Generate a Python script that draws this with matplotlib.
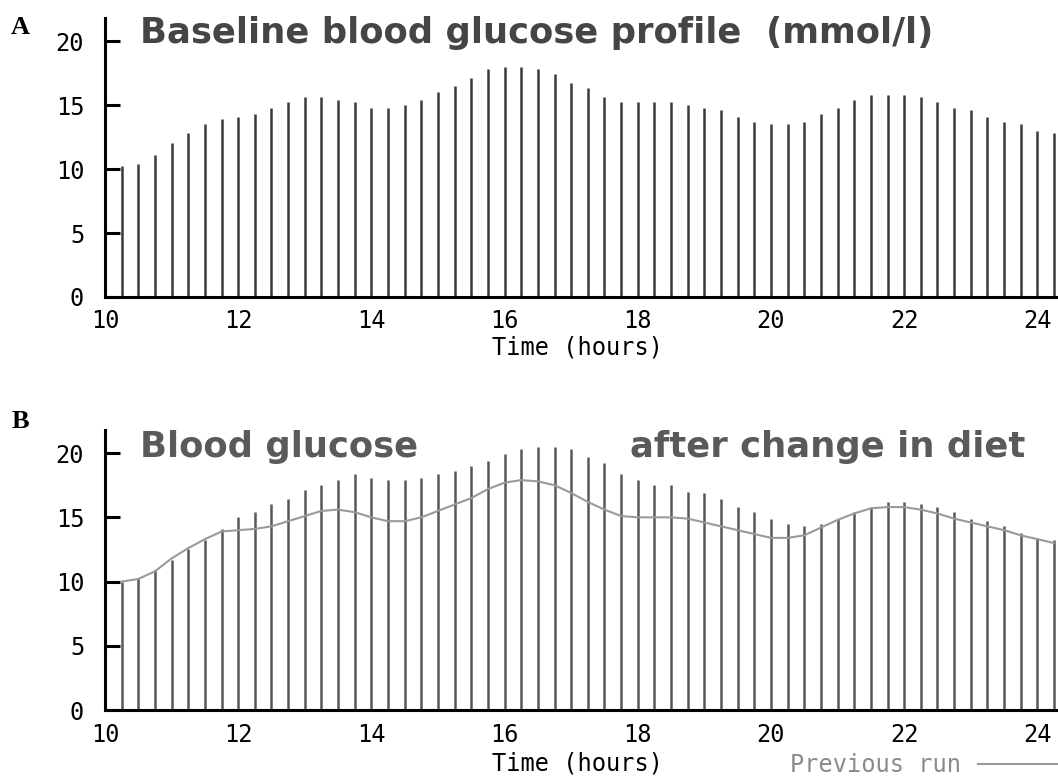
import matplotlib
matplotlib.use("Agg")
from matplotlib import pyplot as plt
import numpy as np

# sample times (hours), one bar every 15 minutes
times = np.arange(10.25, 24.26, 0.25)

# panel A: baseline blood glucose (mmol/l)
baseline = [10.2, 10.4, 11.1, 12.0, 12.8, 13.5, 13.9, 14.1,
            14.3, 14.8, 15.2, 15.6, 15.6, 15.4, 15.2, 14.8,
            14.8, 15.0, 15.4, 16.0, 16.5, 17.1, 17.8, 18.0,
            18.0, 17.8, 17.4, 16.7, 16.3, 15.6, 15.2, 15.2,
            15.2, 15.2, 15.0, 14.8, 14.6, 14.1, 13.7, 13.5,
            13.5, 13.7, 14.3, 14.8, 15.4, 15.8, 15.8, 15.8,
            15.6, 15.2, 14.8, 14.6, 14.1, 13.7, 13.5, 13.0, 12.8]

# panel B: blood glucose after change in diet
after_diet = [10.0, 10.3, 10.9, 11.7, 12.5, 13.2, 14.1, 15.0,
              15.4, 16.0, 16.4, 17.1, 17.5, 17.9, 18.4, 18.1,
              17.9, 17.9, 18.1, 18.4, 18.6, 19.0, 19.4, 19.9,
              20.3, 20.5, 20.5, 20.3, 19.7, 19.2, 18.4, 17.9,
              17.5, 17.5, 17.0, 16.9, 16.4, 15.8, 15.4, 14.9,
              14.5, 14.3, 14.5, 14.9, 15.4, 15.8, 16.2, 16.2,
              16.0, 15.8, 15.4, 14.9, 14.7, 14.3, 13.8, 13.4, 13.2]

# previous run line drawn in panel B
previous_run = [10.0, 10.2, 10.8, 11.8, 12.6, 13.3, 13.9, 14.0,
                14.1, 14.3, 14.7, 15.1, 15.5, 15.6, 15.4, 15.0,
                14.7, 14.7, 15.0, 15.5, 16.0, 16.5, 17.2, 17.7,
                17.9, 17.8, 17.5, 16.9, 16.2, 15.6, 15.1, 15.0,
                15.0, 15.0, 14.9, 14.6, 14.3, 14.0, 13.7, 13.4,
                13.4, 13.6, 14.2, 14.8, 15.3, 15.7, 15.8, 15.8,
                15.6, 15.3, 14.9, 14.6, 14.3, 14.0, 13.6, 13.3, 13.0]

xticks = [10, 12, 14, 16, 18, 20, 22, 24]
yticks = [0, 5, 10, 15, 20]

W, H = 1058, 776
mono = "DejaVu Sans Mono"

fig = plt.figure(figsize=(W / 100, H / 100), dpi=100)


def make_axes(y_zero, y_top, values, bar_color):
    left = 105 / W
    ax = fig.add_axes([left, 1 - y_zero / H, 1 - left, (y_zero - y_top) / H])
    ax.vlines(times, 0, values, colors=bar_color, linewidth=1.8)
    ax.set_xlim(10, 24.31)
    ax.set_ylim(0, 21.8)
    for s in ["top", "right"]:
        ax.spines[s].set_visible(False)
    for s in ["left", "bottom"]:
        ax.spines[s].set_linewidth(2.2)
        ax.spines[s].set_color("black")
    ax.set_xticks(xticks)
    ax.set_yticks(yticks)
    ax.set_xticklabels([str(v) for v in xticks], family=mono, fontsize=17)
    ax.set_yticklabels([str(v) for v in yticks], family=mono, fontsize=17)
    ax.tick_params(axis="x", length=0, pad=9)
    ax.tick_params(axis="y", direction="in", length=11, width=2.2, pad=15)
    ax.patch.set_alpha(0)
    return ax


axA = make_axes(297, 18, baseline, "#3a3a3a")
axB = make_axes(710, 430, after_diet, "#585858")

axB.plot(times, previous_run, color="#9a9a9a", linewidth=1.5, label="Previous run")
leg = axB.legend(loc="center right", bbox_to_anchor=(1.0, (710 - 765) / 280),
                 frameon=False, markerfirst=False, handlelength=3.4,
                 borderaxespad=0, borderpad=0, handletextpad=0.7,
                 prop={"family": mono, "size": 17})
for t in leg.get_texts():
    t.set_color("#8a8a8a")

# axis labels
fig.text(577 / W, 1 - 347 / H, "Time (hours)", family=mono, fontsize=17,
         ha="center", va="center")
fig.text(577 / W, 1 - 763 / H, "Time (hours)", family=mono, fontsize=17,
         ha="center", va="center")

# titles
title_font = dict(family="DejaVu Sans", weight="bold", fontsize=25.5)
fig.text(140 / W, 1 - 43 / H, "Baseline blood glucose profile  (mmol/l)",
         color="#454545", va="baseline", ha="left", **title_font)
fig.text(140 / W, 1 - 457 / H, "Blood glucose",
         color="#5a5a5a", va="baseline", ha="left", **title_font)
fig.text(630 / W, 1 - 457 / H, "after change in diet",
         color="#5a5a5a", va="baseline", ha="left", **title_font)

# panel letters
fig.text(11 / W, 1 - 34 / H, "A", family="Liberation Serif", weight="bold",
         fontsize=19, va="baseline")
fig.text(12 / W, 1 - 428 / H, "B", family="Liberation Serif", weight="bold",
         fontsize=19, va="baseline")

plt.savefig("out.png", dpi=100)
